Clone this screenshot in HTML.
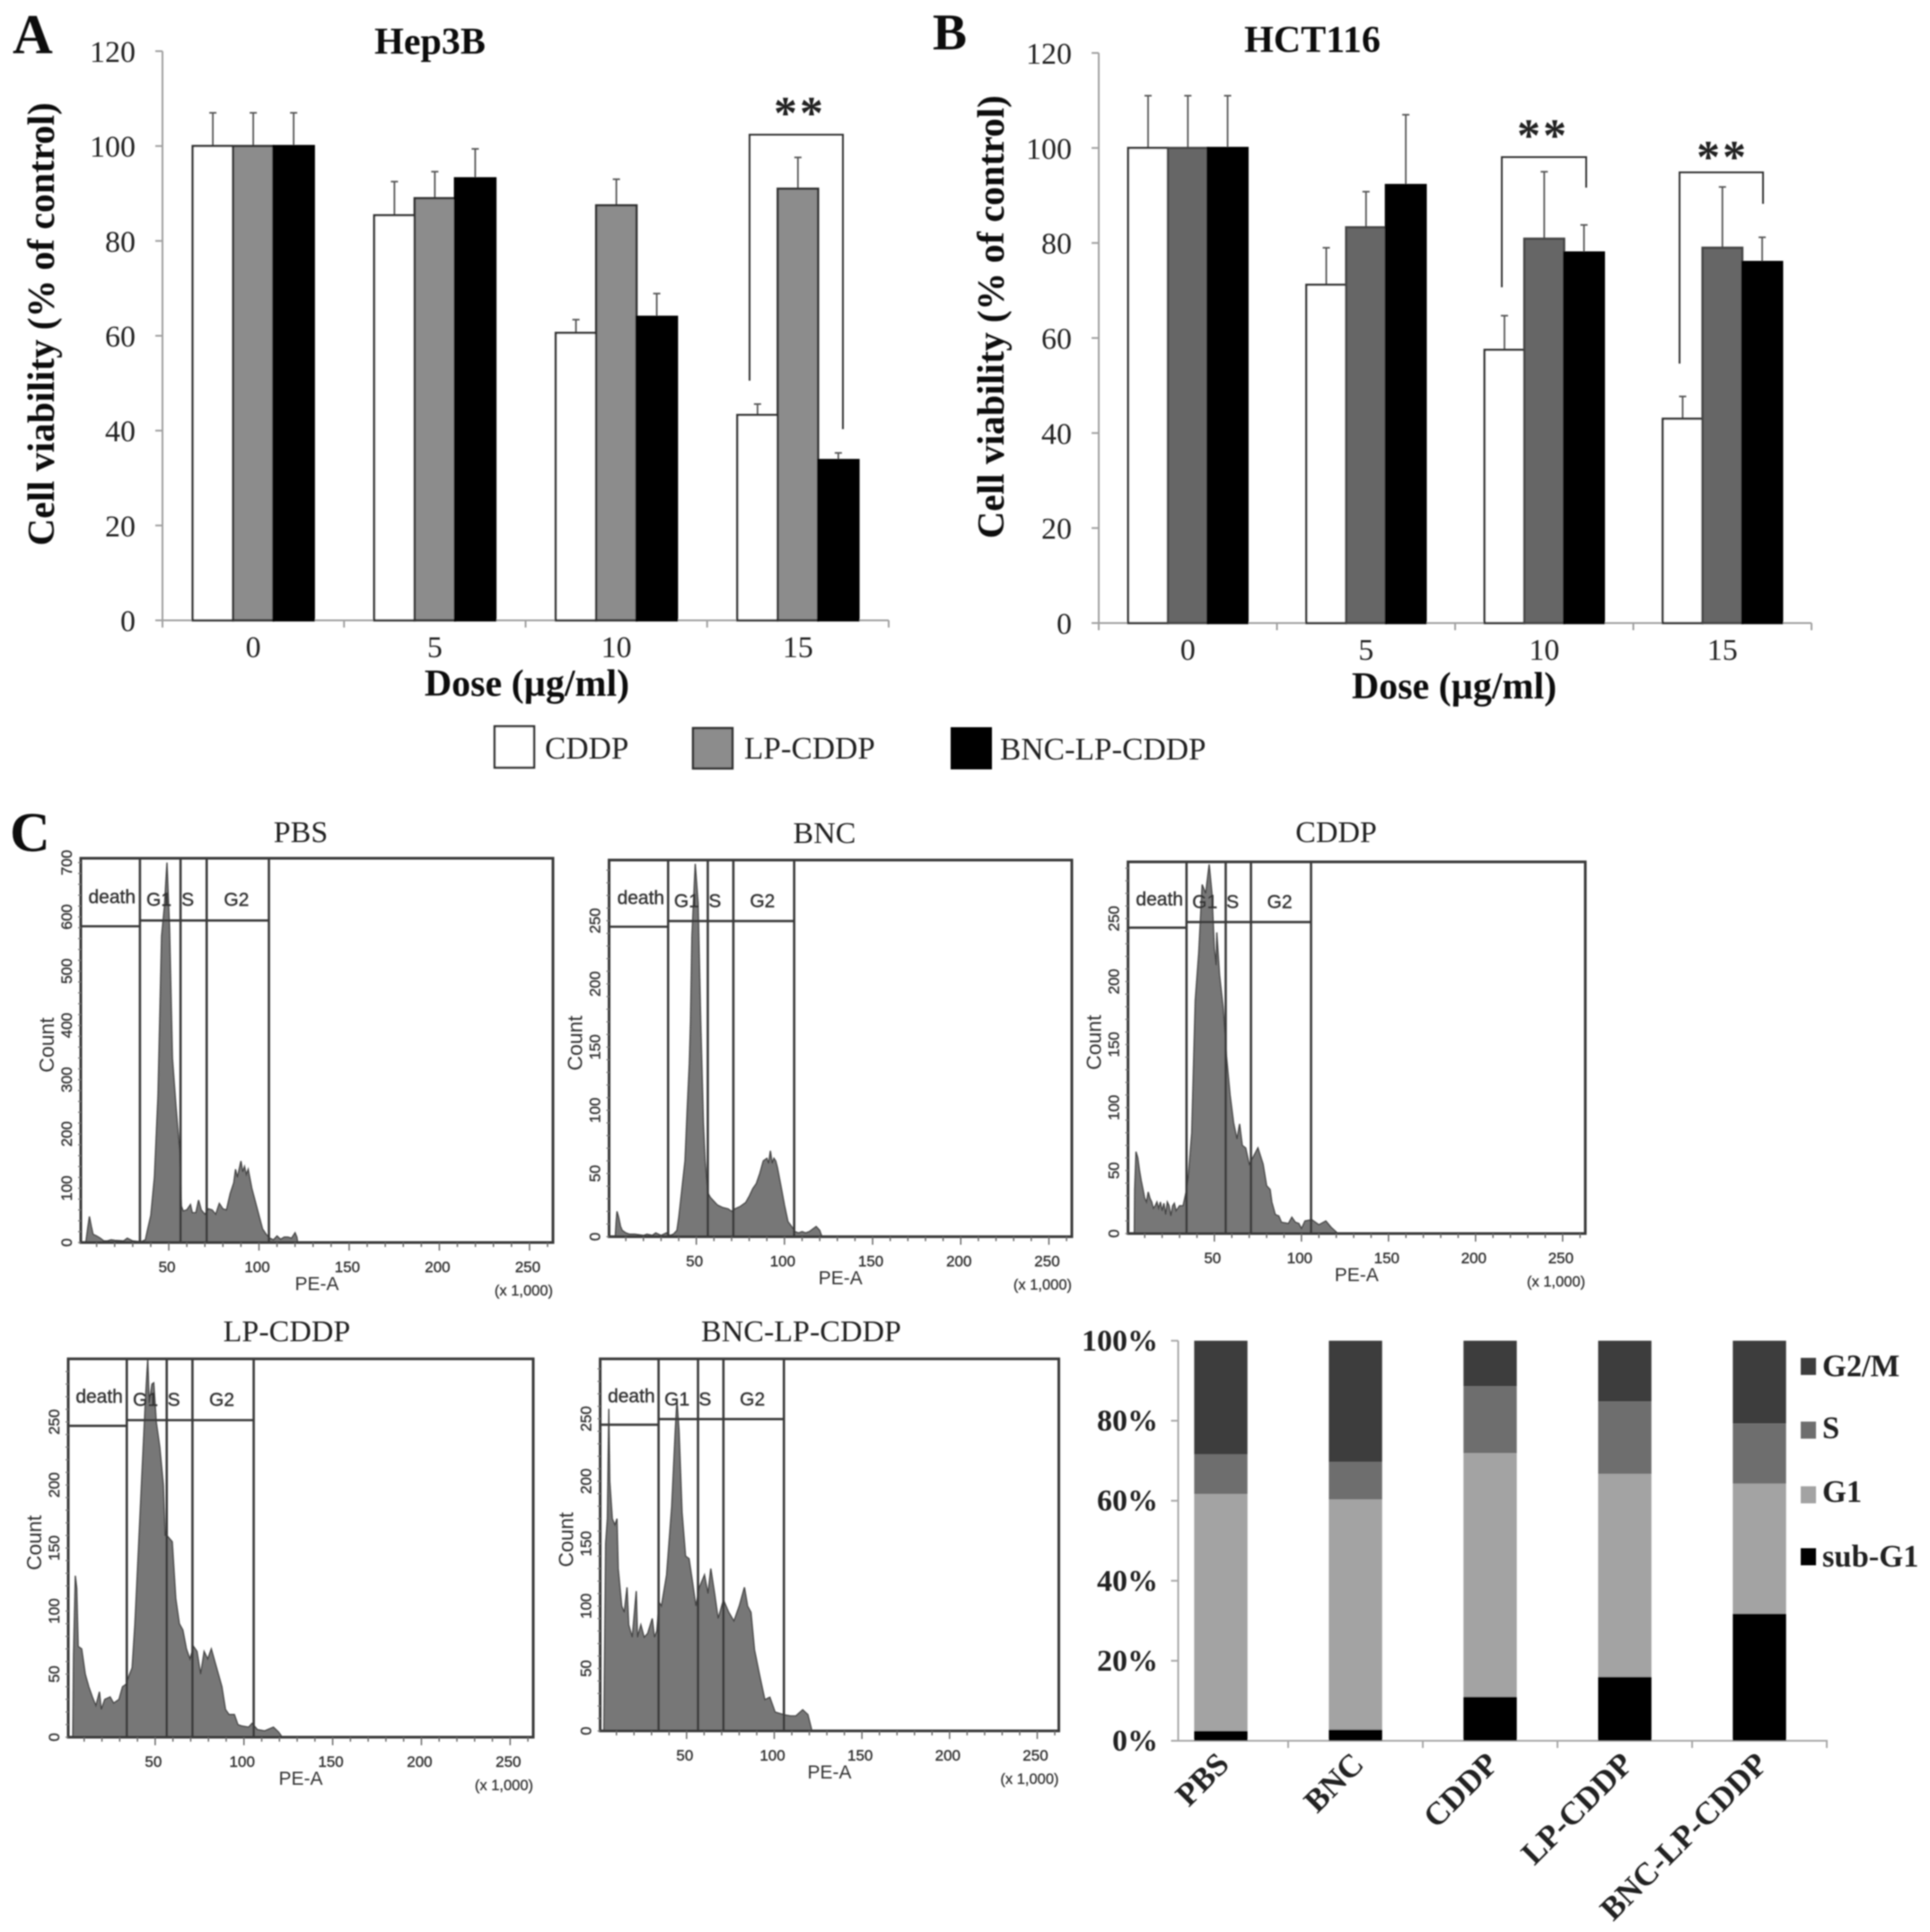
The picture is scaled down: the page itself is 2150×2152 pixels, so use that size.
<!DOCTYPE html>
<html lang="en">
<head>
<meta charset="utf-8">
<title>Cell viability and cell cycle figure</title>
<style>
html,body{margin:0;padding:0;background:#fff;}
#figure{display:block;width:2150px;height:2152px;background:#fff;}
.serif{font-family:"Liberation Serif",serif;}
.sans{font-family:"Liberation Sans",sans-serif;}
</style>
</head>
<body>
<svg id="figure" xmlns="http://www.w3.org/2000/svg" width="2150" height="2152" viewBox="0 0 2150 2152">
  <defs><filter id="soft" x="0" y="0" width="100%" height="100%"><feGaussianBlur stdDeviation="0.8"/></filter></defs>
  <g id="root" filter="url(#soft)">
    <g class="serif" font-weight="700" fill="#111">
      <text x="14" y="59" font-size="62">A</text>
      <text x="1039" y="55" font-size="57">B</text>
      <text x="11" y="948" font-size="62">C</text>
    </g>
    <g class="serif" fill="#222">
      <rect x="551" y="809" width="44" height="46" fill="#fff" stroke="#333" stroke-width="2.5"/>
      <text x="607" y="845" font-size="35">CDDP</text>
      <rect x="772" y="811" width="44" height="45" fill="#8c8c8c" stroke="#333" stroke-width="2.5"/>
      <text x="829" y="845" font-size="35">LP-CDDP</text>
      <rect x="1059" y="810" width="46" height="47" fill="#000"/>
      <text x="1114" y="846" font-size="35">BNC-LP-CDDP</text>
    </g>
  </g>
</svg>
<script>
// ---------- Panels A and B: viability ----------
const doseLabels = ['0', '5', '10', '15'];
const viabilityTicks = [0, 20, 40, 60, 80, 100, 120];
const hep3bCddp = [100, 85.4, 60.6, 43.3];
const hep3bLp = [100, 89, 87.5, 91];
const hep3bBnc = [100, 93.2, 64, 33.8];
const hep3bCddpErr = [7, 7.1, 2.8, 2.3];
const hep3bLpErr = [7, 5.6, 5.5, 6.6];
const hep3bBncErr = [7, 6.2, 4.9, 1.5];
const hct116Cddp = [100, 71.2, 57.5, 43];
const hct116Lp = [100, 83.3, 80.9, 79];
const hct116Bnc = [100, 92.2, 78, 76];
const hct116CddpErr = [11, 7.8, 7.2, 4.7];
const hct116LpErr = [11, 7.5, 14.1, 12.8];
const hct116BncErr = [11, 14.8, 5.8, 5.2];

// ---------- Panel C: flow cytometry histograms (PE-A in thousands, count) ----------
const gateLabels = ['death', 'G1', 'S', 'G2'];
const gateEdges = [34, 56.5, 71, 105.5];
const peTicks = [50, 100, 150, 200, 250];
const pbsCountTicks = [0, 100, 200, 300, 400, 500, 600, 700];
const otherCountTicks = [0, 50, 100, 150, 200, 250];
const pbsPe = [4,5,6,7,8,10,12,14,16,18,20,25,27,30,33,35,37,38,40,42,44,46,47.6,49,50.4,52,54,56,57,58,60,62,63,65,66.5,68,70,72,74,76,78,80,82,84,86,87,88,90,91,92,93,94,96,98,100,102,104,106,108,110,112,114,116,118,120,121,121.5];
const pbsCount = [0,25,48,30,15,12,8,3,3,5,4,3,8,3,2,2,5,20,50,120,270,565,620,700,580,340,250,170,67,58,60,70,55,55,78,60,52,62,60,52,72,62,60,90,110,135,120,150,130,140,125,135,100,75,50,25,15,8,5,12,6,10,10,8,18,10,0];
const bncPe = [4,4.5,5,6,7,8,10,12,15,20,22,25,27,30,33,35,37,39,40,42,43.6,44.8,46,46.7,47.5,49.4,51,52.5,54,55,56.4,58,60,62,65,68,70,72,75,78,80,82,84,86,88,90,91,92,93,94,95,96,98,100,102,104,106,108,110,112,114,116,118,120,121,122];
const bncCount = [0,12,20,15,8,5,3,2,2,1,2,1,3,1,3,1,2,5,15,40,60,100,137,170,238,295,264,170,90,60,35,31,28,25,23,22,20,22,24,27,32,38,42,50,60,62,58,68,58,62,60,55,40,25,12,8,4,3,4,3,4,6,8,5,1,0];
const cddpPe = [4,4.2,5,6,7,8,9,10,11,12,13,14,15,16,17,18,19,20,21,22,23,24,25,26,27,28,29,30,32,33,34,35,37,39,41,43,45,47,48.6,50,51,51.4,53,55,57,59,61,63,64.5,66,68,70,72,75,78,80,82,83,85,87,88.5,92.5,94.5,96.5,98.5,100,102,106,110,114,117,121];
const cddpCount = [0,35,65,60,50,42,35,28,25,33,28,25,20,22,25,20,25,18,24,15,25,22,14,22,24,18,20,22,22,28,35,45,80,185,223,277,270,293,270,226,213,239,205,180,140,110,88,75,87,70,68,55,60,68,55,38,35,25,15,14,9,8,13,9,8,4,10,11,7,10,5,0];
const lpPe = [3.6,4,5,5.8,6.6,8.6,10.6,12.6,14.6,16.6,18.6,19.6,21.6,24.6,26.6,29.6,31.6,33.6,35.6,37,38.6,40.6,42.6,44.6,45.8,46.6,48.2,49.2,50.6,52.6,54.6,55.6,56.6,59.6,61.6,63.6,65.6,67.6,69.6,71.6,73.6,75.6,77.6,79.6,81.6,84.6,87.6,89.6,91.6,94.6,96.6,98.6,102.6,104.6,107.6,111.6,116.6,119.6,121.6];
const lpCount = [0,65,128,118,72,70,50,40,32,25,36,22,30,32,27,30,40,42,50,55,90,150,210,270,300,265,280,281,250,230,200,160,160,155,110,90,85,70,62,72,68,50,68,62,70,55,40,22,18,18,10,9,8,11,6,5,8,4,0];
const bncLpPe = [2.8,3.8,4.8,5.6,6.2,7.6,9.1,10.3,11,13,14.4,16,17,19,21.3,22,23.9,25.8,27.8,30.4,31.7,33,34.3,35.6,38.6,41.5,43.5,44.5,45.7,47.4,49.4,51.4,53.3,55.3,57.3,60.2,62.2,63.8,66,68,71,74,77,80,83,84.8,86.7,88.7,91.6,94.6,97.5,100.5,105.4,109.3,112.3,116.2,119.2,121,121.5];
const bncLpCount = [0,150,170,258,200,170,165,170,130,100,95,115,85,75,112,75,85,75,78,90,75,80,103,100,125,180,240,265,240,175,140,138,120,100,115,125,110,130,110,90,105,95,88,100,115,100,95,65,45,25,27,15,13,12,12,17,13,3,0];

// ---------- Panel C: stacked cell-cycle bars ----------
const cycleCategories = ['PBS', 'BNC', 'CDDP', 'LP-CDDP', 'BNC-LP-CDDP'];
const cycleTicks = [0, 20, 40, 60, 80, 100];
const subG1Values = [2.5, 2.8, 11, 16, 31.8];
const g1Values = [59.2, 57.5, 60.9, 50.7, 32.5];
const sValues = [9.9, 9.4, 16.7, 18.1, 15];
const g2mValues = [28.4, 30.3, 11.4, 15.2, 20.7];

const NS = 'http://www.w3.org/2000/svg';
const root = document.getElementById('root');

function mk(tag, attrs, parent) {
  const el = document.createElementNS(NS, tag);
  for (const k in attrs) el.setAttribute(k, attrs[k]);
  (parent || root).appendChild(el);
  return el;
}
function txt(str, attrs, parent) {
  const el = mk('text', attrs, parent);
  el.textContent = str;
  return el;
}

function drawViability(opts) {
  const g = mk('g', {}, root);
  
  
  const y = v => opts.y0 - v * (opts.y0 - opts.yTop) / 120;
  const band = (opts.xEnd - opts.x0) / opts.cats.length;
  const xc = i => opts.x0 + (i + 0.5) * band;
  const axisColor = '#a0a0a0';

  const yAxis = mk('line', {x1: opts.x0, x2: opts.x0, y1: opts.yTop, y2: opts.y0, stroke: axisColor, 'stroke-width': 2}, g);
  
  
  const xAxis = mk('line', {x1: opts.x0, x2: opts.xEnd, y1: opts.y0, y2: opts.y0, stroke: axisColor, 'stroke-width': 2}, g);
  
  

  opts.ticks.forEach(t => {
    const tick = mk('line', {x1: opts.x0 - 8, x2: opts.x0, y1: y(t), y2: y(t), stroke: axisColor, 'stroke-width': 2}, g);
    
    
    const lab = txt(String(t), {x: opts.x0 - 30, y: y(t) + 12, 'text-anchor': 'end', 'font-size': 34, fill: '#222', class: 'serif'}, g);
    
    
  });

  for (let i = 0; i <= opts.cats.length; i++) {
    const xt = opts.x0 + i * band;
    const tick = mk('line', {x1: xt, x2: xt, y1: opts.y0, y2: opts.y0 + 8, stroke: axisColor, 'stroke-width': 2}, g);
    
    
  }

  opts.cats.forEach((c, i) => {
    const lab = txt(c, {x: xc(i), y: opts.y0 + 41, 'text-anchor': 'middle', 'font-size': 34, fill: '#222', class: 'serif'}, g);
    
    
    opts.series.forEach((s, j) => {
      const left = xc(i) + (j - 1.5) * opts.barW;
      const top = y(s.values[i]);
      const errTop = y(s.values[i] + s.errs[i]);
      const cx = left + opts.barW / 2;
      const err = mk('line', {x1: cx, x2: cx, y1: top, y2: errTop, stroke: '#555', 'stroke-width': 1.8}, g);
      
      
      const cap = mk('line', {x1: cx - 4, x2: cx + 4, y1: errTop, y2: errTop, stroke: '#555', 'stroke-width': 1.8}, g);
      
      
      const bar = mk('rect', {x: left, y: top, width: opts.barW, height: opts.y0 - top, fill: s.fill, stroke: s.stroke, 'stroke-width': 2.5}, g);
      
      
    });
  });

  const title = txt(opts.title, {x: opts.titleX, y: opts.titleY, 'text-anchor': 'middle', 'font-size': 42, 'font-weight': 700, fill: '#111', class: 'serif'}, g);
  
  
  const xTitle = txt('Dose (µg/ml)', {x: opts.xTitleX, y: opts.xTitleY, 'text-anchor': 'middle', 'font-size': 42, 'font-weight': 700, fill: '#111', class: 'serif'}, g);
  
  
  const yTitle = txt('Cell viability (% of control)', {transform: 'translate(' + opts.yTitleX + ',' + opts.yTitleY + ') rotate(-90)', 'text-anchor': 'middle', 'font-size': 42, 'font-weight': 700, fill: '#111', class: 'serif'}, g);
  
  

  opts.brackets.forEach(b => {
    const p = mk('path', {d: 'M' + b.x1 + ' ' + b.y1 + 'V' + b.top + 'H' + b.x2 + 'V' + b.y2, fill: 'none', stroke: '#333', 'stroke-width': 2}, g);
    
    
    const s = txt('**', {x: (b.sx), y: b.sy, 'text-anchor': 'middle', 'font-size': 52, 'font-weight': 700, 'letter-spacing': 3, fill: '#222', class: 'serif'}, g);
    
    
  });
}

drawViability({
  name: 'hep3b-chart', title: 'Hep3B', cats: doseLabels, ticks: viabilityTicks,
  x0: 181, xEnd: 990, y0: 691, yTop: 57, barW: 45,
  titleX: 479, titleY: 60, xTitleX: 587, xTitleY: 775, yTitleX: 60, yTitleY: 361,
  series: [
    {key: 'cddp', values: hep3bCddp, errs: hep3bCddpErr, fill: '#fff', stroke: '#333'},
    {key: 'lp-cddp', values: hep3bLp, errs: hep3bLpErr, fill: '#8c8c8c', stroke: '#333'},
    {key: 'bnc-lp-cddp', values: hep3bBnc, errs: hep3bBncErr, fill: '#000', stroke: '#000'}
  ],
  brackets: [{x1: 835, x2: 939, top: 150, y1: 424, y2: 478, sx: 891, sy: 143}]
});

drawViability({
  name: 'hct116-chart', title: 'HCT116', cats: doseLabels, ticks: viabilityTicks,
  x0: 1224, xEnd: 2018, y0: 694, yTop: 59, barW: 44.3,
  titleX: 1462, titleY: 58, xTitleX: 1620, xTitleY: 778, yTitleX: 1118, yTitleY: 353,
  series: [
    {key: 'cddp', values: hct116Cddp, errs: hct116CddpErr, fill: '#fff', stroke: '#333'},
    {key: 'lp-cddp', values: hct116Lp, errs: hct116LpErr, fill: '#666', stroke: '#444'},
    {key: 'bnc-lp-cddp', values: hct116Bnc, errs: hct116BncErr, fill: '#000', stroke: '#000'}
  ],
  brackets: [
    {x1: 1673, x2: 1767, top: 175, y1: 320, y2: 209, sx: 1719, sy: 168},
    {x1: 1871, x2: 1964, top: 192, y1: 405, y2: 227, sx: 1919, sy: 192}
  ]
});

function drawFlow(o) {
  const g = mk('g', {class: 'sans'}, root);
  
  
  const x = v => o.left + (v - o.xMin) * (o.right - o.left) / (o.xMax - o.xMin);
  const y = v => o.bottom - v * (o.bottom - o.top) / o.yMax;
  const ink = '#3a3a3a';

  let d = '';
  o.pe.forEach((p, i) => { d += (i ? 'L' : 'M') + x(p).toFixed(1) + ' ' + y(o.count[i]).toFixed(1); });
  const hist = mk('path', {d: d + 'Z', fill: '#777', stroke: '#444', 'stroke-width': 1.4}, g);
  
  

  const box = mk('rect', {x: o.left, y: o.top, width: o.right - o.left, height: o.bottom - o.top, fill: 'none', stroke: ink, 'stroke-width': 3}, g);
  
  

  const h = o.bottom - o.top;
  gateEdges.forEach(e => {
    const gate = mk('line', {x1: x(e), x2: x(e), y1: o.top, y2: o.bottom, stroke: ink, 'stroke-width': 2.6}, g);
    
    
  });
  const deathLine = mk('line', {x1: o.left, x2: x(gateEdges[0]), y1: o.top + 0.177 * h, y2: o.top + 0.177 * h, stroke: ink, 'stroke-width': 2.6}, g);
  
  
  const cycleLine = mk('line', {x1: x(gateEdges[0]), x2: x(gateEdges[3]), y1: o.top + 0.162 * h, y2: o.top + 0.162 * h, stroke: ink, 'stroke-width': 2.6}, g);
  
  

  const labelPos = [18.5, 44.5, 60.5, 87.5];
  gateLabels.forEach((l, i) => {
    const t = txt(l, {x: x(labelPos[i]), y: o.top + (i ? 0.108 : 0.1) * h + 7, 'text-anchor': 'middle', 'font-size': 21, fill: '#333', stroke: '#333', 'stroke-width': 0.4}, g);
    
    
  });

  for (let v = 10; v <= 260; v += 10) {
    const major = v % 50 === 0;
    const t = mk('line', {x1: x(v), x2: x(v), y1: o.bottom, y2: o.bottom + (major ? 9 : 5), stroke: '#666', 'stroke-width': 1.5}, g);
    
    
  }
  peTicks.forEach(v => {
    const t = txt(String(v), {x: x(v) - 2, y: o.bottom + 33, 'text-anchor': 'middle', 'font-size': 17, fill: '#333', stroke: '#333', 'stroke-width': 0.4}, g);
    
    
  });

  for (let v = 0; v < o.yMax; v += o.yMinor) {
    const t = mk('line', {x1: o.left - 3, x2: o.left, y1: y(v), y2: y(v), stroke: '#777', 'stroke-width': 1.3}, g);
    
    
  }
  o.ticks.forEach(v => {
    const t = txt(String(v), {transform: 'translate(' + (o.left - 10) + ',' + y(v) + ') rotate(-90)', 'text-anchor': 'middle', 'font-size': 17, fill: '#333', stroke: '#333', 'stroke-width': 0.4}, g);
    
    
  });

  const countT = txt('Count', {transform: 'translate(' + (o.left - 30) + ',' + (o.top + 0.486 * h) + ') rotate(-90)', 'text-anchor': 'middle', 'font-size': 23, fill: '#333'}, g);
  
  
  const peT = txt('PE-A', {x: (o.left + o.right) / 2, y: o.bottom + 53, 'text-anchor': 'middle', 'font-size': 21, fill: '#333'}, g);
  
  
  const mult = txt('(x 1,000)', {x: o.right, y: o.bottom + 59, 'text-anchor': 'end', 'font-size': 16.5, fill: '#333', stroke: '#333', 'stroke-width': 0.3}, g);
  
  
  const title = txt(o.title, {x: o.titleX, y: o.titleY, 'text-anchor': 'middle', 'font-size': 34, fill: '#222', class: 'serif'}, g);
  
  
}

drawFlow({name: 'pbs-histogram', title: 'PBS', titleX: 335, titleY: 938, left: 90, right: 616, top: 956, bottom: 1384, xMin: 1.2, xMax: 263, yMax: 708, yMinor: 20, ticks: pbsCountTicks, pe: pbsPe, count: pbsCount});
drawFlow({name: 'bnc-histogram', title: 'BNC', titleX: 918.5, titleY: 939, left: 678.5, right: 1194, top: 958, bottom: 1377.5, xMin: 0.5, xMax: 263, yMax: 298, yMinor: 10, ticks: otherCountTicks, pe: bncPe, count: bncCount});
drawFlow({name: 'cddp-histogram', title: 'CDDP', titleX: 1488.5, titleY: 938, left: 1256.6, right: 1766, top: 960, bottom: 1374, xMin: 0.4, xMax: 263, yMax: 295, yMinor: 10, ticks: otherCountTicks, pe: cddpPe, count: cddpCount});
drawFlow({name: 'lp-cddp-histogram', title: 'LP-CDDP', titleX: 319.5, titleY: 1494, left: 76, right: 594, top: 1513.6, bottom: 1935, xMin: 1, xMax: 263, yMax: 300, yMinor: 10, ticks: otherCountTicks, pe: lpPe, count: lpCount});
drawFlow({name: 'bnc-lp-cddp-histogram', title: 'BNC-LP-CDDP', titleX: 892.5, titleY: 1494, left: 668.6, right: 1179.5, top: 1513.6, bottom: 1928, xMin: 0.7, xMax: 262.3, yMax: 298, yMinor: 10, ticks: otherCountTicks, pe: bncLpPe, count: bncLpCount});

(function drawStack() {
  const g = mk('g', {class: 'serif'}, root);
  
  
  const x0 = 1312.5, xEnd = 2036, y0 = 1939, yTop = 1493.4, step = 150, barW = 59.4;
  const y = v => y0 - v * (y0 - yTop) / 100;
  const cx = i => 1360 + i * step;
  const axisColor = '#a8a8a8';
  const layers = [
    {key: 'sub-g1', values: subG1Values, fill: '#000'},
    {key: 'g1', values: g1Values, fill: '#a3a3a3'},
    {key: 's', values: sValues, fill: '#6e6e6e'},
    {key: 'g2m', values: g2mValues, fill: '#3c3c3c'}
  ];

  const yAxis = mk('line', {x1: x0, x2: x0, y1: yTop, y2: y0, stroke: axisColor, 'stroke-width': 2}, g);
  
  
  const xAxis = mk('line', {x1: x0, x2: xEnd, y1: y0, y2: y0, stroke: axisColor, 'stroke-width': 2}, g);
  
  

  cycleTicks.forEach(t => {
    const tick = mk('line', {x1: x0 - 8, x2: x0, y1: y(t), y2: y(t), stroke: axisColor, 'stroke-width': 2}, g);
    
    
    const lab = txt(t + '%', {x: 1290, y: y(t) + 11, 'text-anchor': 'end', 'font-size': 34, 'font-weight': 700, fill: '#222'}, g);
    
    
  });

  cycleCategories.forEach((c, i) => {
    let acc = 0;
    layers.forEach(l => {
      const v = l.values[i];
      const seg = mk('rect', {x: cx(i) - barW / 2, y: y(acc + v), width: barW, height: y(acc) - y(acc + v), fill: l.fill}, g);
      
      
      acc += v;
    });
    const tick = mk('line', {x1: cx(i) + 75, x2: cx(i) + 75, y1: y0, y2: y0 + 8, stroke: axisColor, 'stroke-width': 2}, g);
    
    
    const lab = txt(c, {transform: 'translate(' + (cx(i) + 11) + ',' + 1967 + ') rotate(-45)', 'text-anchor': 'end', 'font-size': 36, 'font-weight': 700, fill: '#222'}, g);
    
    
  });

  const legendLabels = ['G2/M', 'S', 'G1', 'sub-G1'];
  const legendFills = ['#3c3c3c', '#6e6e6e', '#a3a3a3', '#000'];
  const legendRows = [1522, 1593, 1665, 1734];
  const legendTextRows = [1533, 1602, 1673, 1745];
  legendLabels.forEach((l, i) => {
    const sw = mk('rect', {x: 2006, y: legendRows[i] - 9.5, width: 17, height: 19, fill: legendFills[i]}, g);
    
    
    const t = txt(l, {x: 2030, y: legendTextRows[i], 'font-size': 34.5, 'font-weight': 700, fill: '#222'}, g);
    
    
  });
})();
</script>
</body>
</html>
